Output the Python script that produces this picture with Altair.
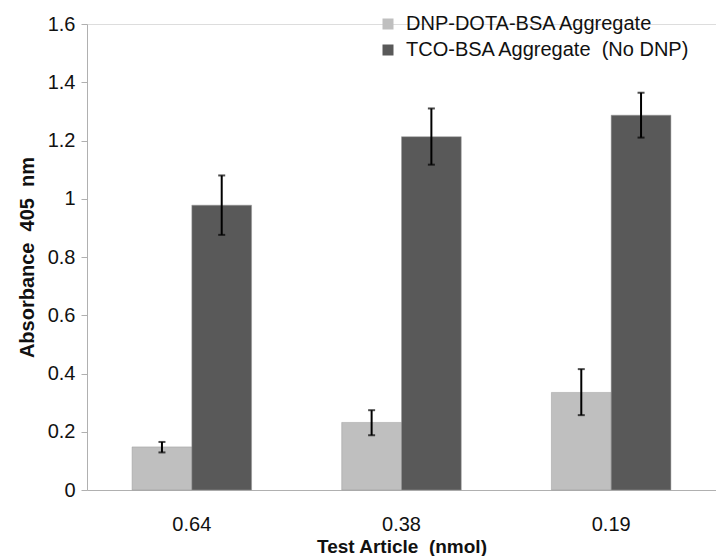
import altair as alt
import pandas as pd

groups = ["0.64", "0.38", "0.19"]
series = ["DNP-DOTA-BSA Aggregate", "TCO-BSA Aggregate \u00a0(No DNP)"]
dnp_vals = [0.148, 0.232, 0.335]
dnp_lo = [0.129, 0.188, 0.257]
dnp_hi = [0.165, 0.274, 0.415]
tco_vals = [0.978, 1.213, 1.287]
tco_lo = [0.876, 1.117, 1.210]
tco_hi = [1.080, 1.310, 1.364]

rows = []
for i, g in enumerate(groups):
    rows.append({"g": g, "s": series[0], "v": dnp_vals[i], "lo": dnp_lo[i], "hi": dnp_hi[i]})
    rows.append({"g": g, "s": series[1], "v": tco_vals[i], "lo": tco_lo[i], "hi": tco_hi[i]})
df = pd.DataFrame(rows)

FONT = "Liberation Sans"

x = alt.X("g:N", sort=groups,
          scale=alt.Scale(paddingInner=0.43, paddingOuter=0.215),
          axis=alt.Axis(title="Test Article \u00a0(nmol)", labelAngle=0, ticks=False,
                        labelPadding=24, titlePadding=3, domainColor="#B0B0B0",
                        labelFontSize=20, titleFontSize=19, labelColor="#111111",
                        titleColor="#111111", titleFontWeight="bold",
                        labelFont=FONT, titleFont=FONT))
xo = alt.XOffset("s:N", sort=series, scale=alt.Scale(paddingInner=0, paddingOuter=0))

bars = alt.Chart(df).mark_bar(stroke="#9a9a9a", strokeWidth=0.5).encode(
    x=x,
    xOffset=xo,
    y=alt.Y("v:Q", scale=alt.Scale(domain=[0, 1.6], nice=False),
            axis=alt.Axis(title="Absorbance \u00a0405 \u00a0nm", values=[0, 0.2, 0.4, 0.6, 0.8, 1.0, 1.2, 1.4, 1.6],
                          format="~g", grid=False, tickSize=6, tickColor="#B0B0B0",
                          domainColor="#B0B0B0", labelPadding=6, titlePadding=10,
                          labelFontSize=20, titleFontSize=20, labelColor="#111111",
                          titleColor="#111111", titleFontWeight="bold",
                          labelFont=FONT, titleFont=FONT)),
    color=alt.Color("s:N", sort=series,
                    scale=alt.Scale(domain=series, range=["#BFBFBF", "#595959"]),
                    legend=alt.Legend(title=None, orient="none", legendX=291, legendY=-10,
                                      symbolType="square", symbolSize=121, symbolStrokeWidth=0,
                                      labelFontSize=20, labelFont=FONT, labelColor="#111111",
                                      labelOffset=8, rowPadding=6, padding=0, labelLimit=500)),
)

err = alt.Chart(df).mark_rule(color="black", strokeWidth=2).encode(
    x=alt.X("g:N", sort=groups), xOffset=xo, y="lo:Q", y2="hi:Q")
cap_lo = alt.Chart(df).mark_tick(color="black", thickness=2, size=7, orient="horizontal").encode(
    x=alt.X("g:N", sort=groups), xOffset=xo, y="lo:Q")
cap_hi = alt.Chart(df).mark_tick(color="black", thickness=2, size=7, orient="horizontal").encode(
    x=alt.X("g:N", sort=groups), xOffset=xo, y="hi:Q")

chart = alt.layer(bars, err, cap_lo, cap_hi).properties(
    width=629, height=466,
    autosize=alt.AutoSizeParams(type="none"),
    padding={"left": 87, "top": 24, "right": 0, "bottom": 66},
).configure_view(stroke=None).configure(font=FONT)

chart.save("out.html", embed_options={"renderer": "svg", "actions": False})
